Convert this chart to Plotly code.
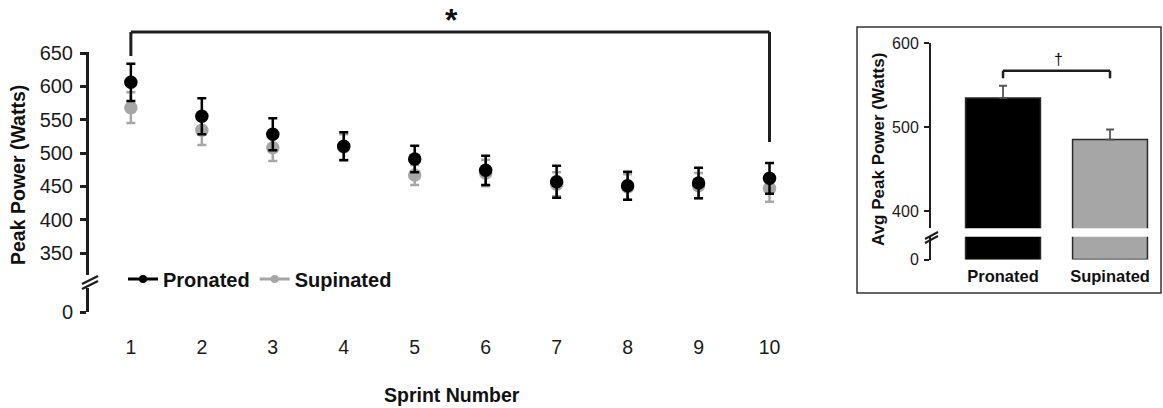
import plotly.graph_objects as go

W, H = 1163, 408

# ---- data ----
sprints = [1, 2, 3, 4, 5, 6, 7, 8, 9, 10]
pronated_mean = [606, 555, 528, 510, 491, 474, 457, 451, 455, 462]
pronated_se = [28, 27, 24, 21, 20, 22, 24, 21, 23, 23]
supinated_mean = [568, 534, 508, 509, 467, 470, 453, 449, 451, 447]
supinated_se = [23, 22, 20, 19, 15, 20, 18, 19, 19, 20]

grips = ["Pronated", "Supinated"]
avg_mean = [535, 485.5]
avg_se = [14.5, 12]

upper_ticks = [350, 400, 450, 500, 550, 600, 650]
inset_ticks = [400, 500, 600]

BLACK = "#000000"
GREY = "#a6a6a6"
AX = "#1e1e1e"
FONT = "Arial, Liberation Sans, sans-serif"


def px(x):
    return x / W


def py(y):
    return 1 - y / H


fig = go.Figure()

# main chart: grey first, black on top
fig.add_trace(go.Scatter(
    x=sprints, y=supinated_mean, mode="markers", showlegend=False,
    marker=dict(color=GREY, size=13.5),
    error_y=dict(type="data", array=supinated_se, color=GREY, thickness=2.5, width=4.5),
    xaxis="x", yaxis="y"))
fig.add_trace(go.Scatter(
    x=sprints, y=pronated_mean, mode="markers", showlegend=False,
    marker=dict(color=BLACK, size=13.5),
    error_y=dict(type="data", array=pronated_se, color=BLACK, thickness=2.5, width=4.5),
    xaxis="x", yaxis="y"))
# legend entries
fig.add_trace(go.Scatter(x=[None], y=[None], mode="lines+markers", name="Pronated",
                         line=dict(color=BLACK, width=3), marker=dict(color=BLACK, size=8),
                         xaxis="x", yaxis="y"))
fig.add_trace(go.Scatter(x=[None], y=[None], mode="lines+markers", name="Supinated",
                         line=dict(color=GREY, width=3), marker=dict(color=GREY, size=8),
                         xaxis="x", yaxis="y"))
# lower (broken) axis holder
fig.add_trace(go.Scatter(x=[None], y=[None], mode="markers", showlegend=False,
                         xaxis="x", yaxis="y2"))

# inset bars (upper and lower segments of a broken axis)
bar_colors = [BLACK, GREY]
for yax in ["y3", "y4"]:
    fig.add_trace(go.Bar(
        x=grips, y=avg_mean, width=0.70, showlegend=False,
        marker=dict(color=bar_colors, line=dict(color="#2a2a2a", width=1.5)),
        error_y=dict(type="data", array=avg_se, arrayminus=[0, 0], color="#555555",
                     thickness=1.8, width=4, visible=(yax == "y3")),
        xaxis="x3", yaxis=yax))

common_axis = dict(showgrid=False, zeroline=False, automargin=False)

fig.update_layout(
    template="none",
    width=W, height=H, margin=dict(l=0, r=0, t=0, b=0, pad=0, autoexpand=False),
    paper_bgcolor="white", plot_bgcolor="rgba(0,0,0,0)",
    font=dict(family=FONT, color="#1a1a1a", size=19),
    showlegend=True,
    legend=dict(orientation="h", x=px(123), y=py(279), xanchor="left", yanchor="middle",
                font=dict(size=20, weight="bold", color="#111"), bgcolor="rgba(0,0,0,0)",
                itemwidth=30, tracegroupgap=0),
    xaxis=dict(domain=[px(89), px(805)], range=[0.41, 10.5], anchor="free", position=py(333),
               showline=False, ticks="", tickvals=sprints, tickfont=dict(size=19.5),
               **common_axis),
    yaxis=dict(domain=[py(275), py(52)], range=[317, 651.5], anchor="x",
               showline=True, linewidth=3, linecolor=AX,
               ticks="outside", ticklen=6, tickwidth=3, tickcolor=AX,
               tickvals=upper_ticks, tickfont=dict(size=20), ticklabelstandoff=3,
               **common_axis),
    yaxis2=dict(domain=[py(312), py(288)], range=[0, 36], anchor="x",
                showline=True, linewidth=3, linecolor=AX,
                ticks="outside", ticklen=6, tickwidth=3, tickcolor=AX,
                tickvals=[0], tickfont=dict(size=20), ticklabelstandoff=3,
                **common_axis),
    xaxis3=dict(domain=[px(931), px(1160)], range=[-0.673, 1.467], anchor="y4",
                showline=False, ticks="",
                tickfont=dict(size=16.5, weight="bold", color="#111"), ticklabelstandoff=5,
                **common_axis),
    yaxis3=dict(domain=[py(228.3), py(43.3)], range=[380, 600], anchor="x3",
                showline=True, linewidth=2, linecolor=AX,
                ticks="outside", ticklen=5, tickwidth=2, tickcolor=AX,
                tickvals=inset_ticks, tickfont=dict(size=16), ticklabelstandoff=2,
                **common_axis),
    yaxis4=dict(domain=[py(259.5), py(236.7)], range=[0, 27.1], anchor="x3",
                showline=True, linewidth=2, linecolor=AX,
                ticks="outside", ticklen=5, tickwidth=2, tickcolor=AX,
                tickvals=[0], tickfont=dict(size=16), ticklabelstandoff=2,
                **common_axis),
)

shapes = []
# significance bracket, main chart
for x0, y0, x1, y1 in [(1, 32, 10, 32), (1, 32, 1, 56), (10, 32, 10, 142)]:
    shapes.append(dict(type="line", xref="x", yref="paper", x0=x0, x1=x1,
                       y0=py(y0), y1=py(y1), line=dict(color=AX, width=3)))
# bracket, inset
for x0, y0, x1, y1 in [(0, 70.7, 1, 70.7), (0, 70.7, 0, 78.3), (1, 70.7, 1, 78.3)]:
    shapes.append(dict(type="line", xref="x3", yref="paper", x0=x0, x1=x1,
                       y0=py(y0), y1=py(y1), line=dict(color=AX, width=2.5)))
# axis break marks
for (xa, ya, xb, yb, wd) in [(82, 284, 98, 276, 2.5), (82, 289, 98, 281, 2.5),
                             (925, 239, 938, 232, 2), (925, 243, 938, 236, 2)]:
    shapes.append(dict(type="line", xref="paper", yref="paper", x0=px(xa), x1=px(xb),
                       y0=py(ya), y1=py(yb), line=dict(color=AX, width=wd)))
# inset frame
shapes.append(dict(type="rect", xref="paper", yref="paper", x0=px(857), x1=px(1161),
                   y0=py(293), y1=py(27), line=dict(color="#333333", width=1.5)))
fig.update_layout(shapes=shapes)

annotations = [
    dict(text="<b>Peak Power (Watts)</b>", x=px(18), y=py(175), textangle=-90,
         font=dict(size=19.5, color="#111")),
    dict(text="<b>Sprint Number</b>", x=px(452), y=py(395), font=dict(size=19.5, color="#111")),
    dict(text="<b>*</b>", x=px(451), y=py(20), font=dict(size=32, color="#111")),
    dict(text="†", x=px(1058), y=py(59), font=dict(size=16, color="#111")),
    dict(text="<b>Avg Peak Power (Watts)</b>", x=px(878), y=py(150), textangle=-90,
         font=dict(size=17, color="#111")),
]
for a in annotations:
    a.update(xref="paper", yref="paper", showarrow=False, xanchor="center", yanchor="middle")
fig.update_layout(annotations=annotations)

fig.write_html("out.html")
